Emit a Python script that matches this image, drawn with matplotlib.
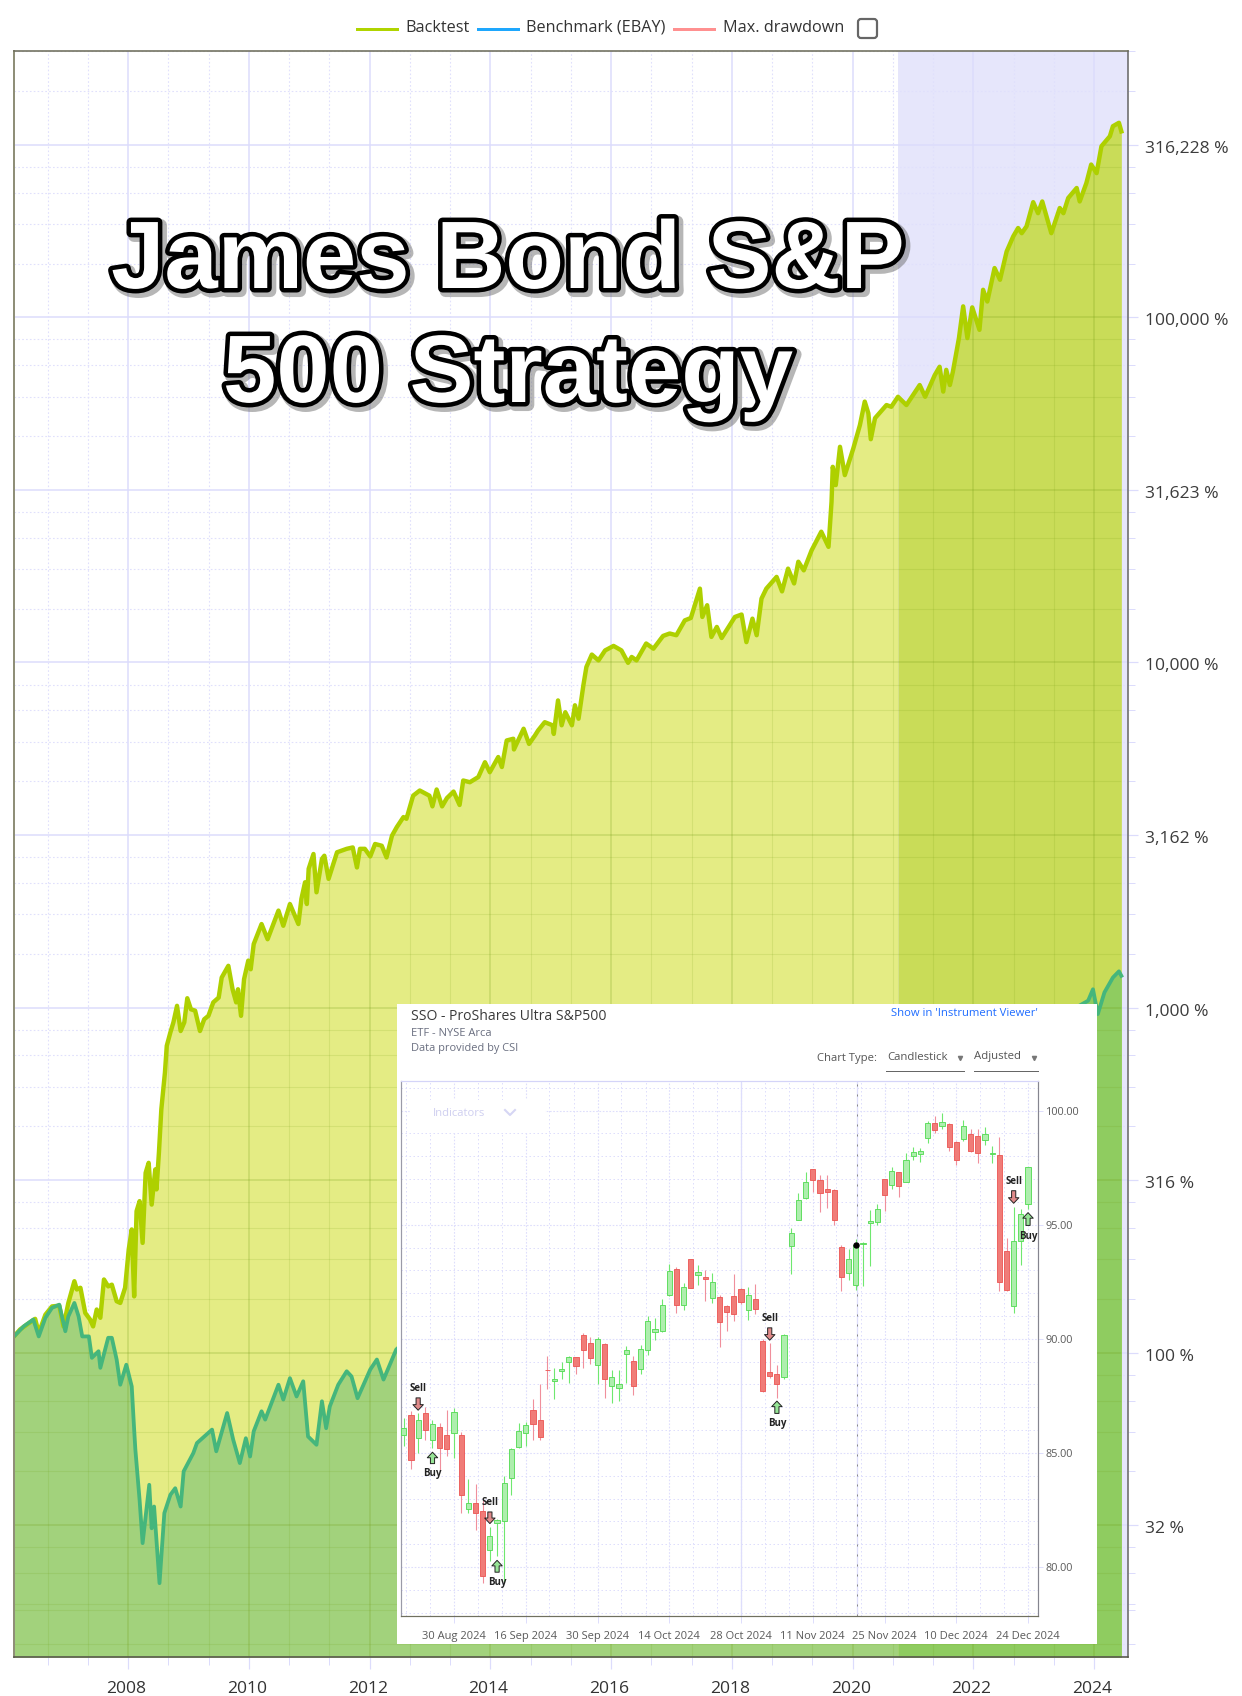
import numpy as np
import matplotlib
matplotlib.use('Agg')
import matplotlib.pyplot as plt
import matplotlib.patheffects as pe
from matplotlib.patches import Polygon, Rectangle, FancyBboxPatch
from matplotlib.ticker import NullFormatter
from matplotlib.transforms import ScaledTranslation

plt.rcParams['font.family'] = ['Open Sans', 'DejaVu Sans']

# equity curves (log10 of the percent value)
backtest_year = [2006.11, 2006.21, 2006.32, 2006.46, 2006.52, 2006.63, 2006.74, 2006.86, 2006.93, 2007.01, 2007.11, 2007.15, 2007.21, 2007.29, 2007.37, 2007.42, 2007.48, 2007.54, 2007.60, 2007.67, 2007.73, 2007.81, 2007.87, 2007.95,
    2008.01, 2008.06, 2008.10, 2008.14, 2008.19, 2008.24, 2008.29, 2008.34, 2008.39, 2008.45, 2008.47, 2008.51, 2008.55, 2008.61, 2008.64, 2008.70, 2008.75, 2008.81, 2008.87, 2008.93, 2008.98,
    2009.04, 2009.11, 2009.19, 2009.26, 2009.33, 2009.41, 2009.50, 2009.55, 2009.66, 2009.73, 2009.79, 2009.82, 2009.87, 2009.92, 2009.99,
    2010.03, 2010.08, 2010.21, 2010.31, 2010.49, 2010.57, 2010.68, 2010.82, 2010.87, 2010.93, 2010.96, 2010.99,
    2011.07, 2011.12, 2011.21, 2011.25, 2011.32, 2011.46, 2011.62, 2011.72, 2011.79, 2011.84, 2011.92,
    2012.01, 2012.09, 2012.20, 2012.28, 2012.37, 2012.45, 2012.56, 2012.61, 2012.72, 2012.83, 2012.99,
    2013.04, 2013.11, 2013.20, 2013.28, 2013.39, 2013.49, 2013.55, 2013.66, 2013.80, 2013.91, 2013.99,
    2014.13, 2014.19, 2014.27, 2014.38, 2014.39, 2014.55, 2014.64, 2014.74, 2014.79, 2014.90,
    2015.03, 2015.05, 2015.12, 2015.18, 2015.24, 2015.35, 2015.40, 2015.46, 2015.54, 2015.59, 2015.68, 2015.79, 2015.90,
    2016.04, 2016.17, 2016.28, 2016.34, 2016.42, 2016.58, 2016.70, 2016.86, 2016.97,
    2017.08, 2017.22, 2017.32, 2017.47, 2017.51, 2017.59, 2017.66, 2017.75, 2017.83, 2017.91,
    2018.05, 2018.16, 2018.24, 2018.34, 2018.41, 2018.49, 2018.57, 2018.74, 2018.83, 2018.93,
    2019.03, 2019.10, 2019.19, 2019.32, 2019.48, 2019.60, 2019.65, 2019.67, 2019.72, 2019.79, 2019.87,
    2020.01, 2020.12, 2020.20, 2020.26, 2020.30, 2020.37, 2020.56, 2020.64, 2020.75, 2020.89,
    2021.11, 2021.20, 2021.36, 2021.44, 2021.50, 2021.55, 2021.61, 2021.66, 2021.76, 2021.83, 2021.90, 2021.98,
    2022.10, 2022.16, 2022.23, 2022.35, 2022.44, 2022.55, 2022.66, 2022.74, 2022.80, 2022.88, 2022.99,
    2023.07, 2023.14, 2023.21, 2023.29, 2023.43, 2023.49, 2023.57, 2023.71, 2023.76, 2023.87, 2023.95,
    2024.04, 2024.12, 2024.26, 2024.31, 2024.41, 2024.45]
backtest_log = [2.047, 2.067, 2.081, 2.098, 2.057, 2.110, 2.134, 2.136, 2.076, 2.144, 2.207, 2.183, 2.188, 2.115, 2.096, 2.076, 2.125, 2.101, 2.212, 2.192, 2.197, 2.149, 2.144, 2.188,
    2.299, 2.357, 2.163, 2.410, 2.439, 2.318, 2.521, 2.550, 2.429, 2.531, 2.473, 2.579, 2.705, 2.812, 2.889, 2.928, 2.957, 3.005, 2.932, 2.957, 3.027,
    2.995, 2.991, 2.932, 2.966, 2.976, 3.015, 3.029, 3.087, 3.121, 3.053, 3.015, 3.053, 2.976, 3.082, 3.136,
    3.111, 3.184, 3.242, 3.198, 3.281, 3.237, 3.300, 3.242, 3.315, 3.363, 3.300, 3.402,
    3.445, 3.334, 3.431, 3.440, 3.373, 3.450, 3.460, 3.464, 3.406, 3.460, 3.460,
    3.438, 3.474, 3.469, 3.435, 3.498, 3.523, 3.552, 3.547, 3.614, 3.629, 3.614,
    3.583, 3.632, 3.583, 3.607, 3.626, 3.587, 3.658, 3.653, 3.668, 3.711, 3.682,
    3.726, 3.697, 3.774, 3.779, 3.748, 3.808, 3.764, 3.789, 3.803, 3.827,
    3.818, 3.793, 3.890, 3.818, 3.856, 3.818, 3.876, 3.837, 3.934, 3.987, 4.023, 4.006, 4.035,
    4.048, 4.035, 3.999, 4.016, 4.006, 4.055, 4.040, 4.077, 4.084,
    4.079, 4.122, 4.129, 4.214, 4.132, 4.166, 4.074, 4.103, 4.071, 4.093,
    4.132, 4.139, 4.059, 4.127, 4.079, 4.185, 4.214, 4.248, 4.206, 4.272,
    4.229, 4.292, 4.267, 4.325, 4.379, 4.335, 4.466, 4.567, 4.514, 4.625, 4.543,
    4.620, 4.688, 4.756, 4.722, 4.647, 4.708, 4.746, 4.741, 4.770, 4.746,
    4.804, 4.770, 4.833, 4.857, 4.785, 4.848, 4.804, 4.843, 4.940, 5.032, 4.940, 5.029,
    4.964, 5.080, 5.046, 5.143, 5.109, 5.191, 5.235, 5.259, 5.244, 5.264, 5.334,
    5.302, 5.336, 5.293, 5.244, 5.317, 5.302, 5.346, 5.375, 5.336, 5.389, 5.443,
    5.418, 5.496, 5.525, 5.554, 5.564, 5.539]

# the stretch behind the inset (2012.5 to 2023.5) can not be seen, rough guess only
bench_year = [2006.11, 2006.27, 2006.43, 2006.52, 2006.63, 2006.74, 2006.86, 2006.96, 2007.01, 2007.11, 2007.18, 2007.24, 2007.35, 2007.40, 2007.51, 2007.54, 2007.67, 2007.73, 2007.81, 2007.87, 2007.97,
    2008.06, 2008.10, 2008.12, 2008.19, 2008.24, 2008.35, 2008.39, 2008.43, 2008.52, 2008.60, 2008.70, 2008.78, 2008.87, 2008.92,
    2009.08, 2009.14, 2009.39, 2009.46, 2009.64, 2009.74, 2009.85, 2009.95,
    2010.02, 2010.08, 2010.21, 2010.27, 2010.49, 2010.57, 2010.68, 2010.79, 2010.90, 2010.98,
    2011.12, 2011.21, 2011.28, 2011.34, 2011.48, 2011.62, 2011.70, 2011.80,
    2012.01, 2012.12, 2012.23, 2012.44, 2014.0, 2016.0, 2018.0, 2020.0, 2020.75, 2022.0, 2023.5,
    2023.90, 2023.98, 2024.06, 2024.17, 2024.31, 2024.41, 2024.45]
bench_log = [2.047, 2.076, 2.096, 2.047, 2.101, 2.130, 2.139, 2.062, 2.105, 2.144, 2.105, 2.047, 2.047, 1.985, 2.004, 1.956, 2.043, 2.043, 1.980, 1.907, 1.965,
    1.902, 1.777, 1.719, 1.573, 1.448, 1.617, 1.491, 1.554, 1.332, 1.535, 1.588, 1.607, 1.554, 1.656,
    1.709, 1.738, 1.777, 1.714, 1.825, 1.748, 1.680, 1.752,
    1.699, 1.772, 1.830, 1.806, 1.907, 1.864, 1.926, 1.873, 1.917, 1.757,
    1.733, 1.859, 1.781, 1.844, 1.907, 1.946, 1.931, 1.868,
    1.951, 1.980, 1.922, 2.009, 2.25, 2.45, 2.60, 2.75, 2.80, 2.90, 2.98,
    3.020, 3.053, 2.981, 3.044, 3.087, 3.105, 3.092]

band_start = 2020.75
year_ticks = [2008, 2010, 2012, 2014, 2016, 2018, 2020, 2022, 2024]
pct_ticks = [10**1.5, 100, 10**2.5, 1000, 10**3.5, 10000, 10**4.5, 100000, 10**5.5]
pct_labels = ['32 %', '100 %', '316 %', '1,000 %', '3,162 %', '10,000 %', '31,623 %', '100,000 %', '316,228 %']

# inset candles, one per trading day
c_open = [85.77, 86.65, 85.66, 86.75, 85.58, 86.14, 85.80, 85.88, 85.77, 82.56, 82.79, 82.47, 80.76, 81.94, 82.00, 83.89, 85.25, 85.86, 86.90, 86.46, 88.65, 88.14, 88.60, 88.98, 89.20, 90.18, 89.80, 88.85, 89.78, 87.95,
    87.85, 89.33, 89.04, 88.68, 89.53, 90.29, 90.34, 91.94, 93.07, 91.48, 93.48, 92.78, 92.73, 91.78, 91.83, 91.42, 91.87, 92.19, 91.26, 91.75, 89.91, 88.54, 88.46, 88.32,
    94.06, 95.22, 96.15, 97.43, 96.97, 96.55, 96.51, 94.04, 92.87, 92.34, 94.14, 95.09, 95.13, 96.99, 96.74, 97.30, 96.89, 98.01, 98.11, 98.82, 99.47, 99.33, 99.43, 98.63, 98.77, 98.98, 98.87, 98.73, 98.11, 98.06, 93.86, 91.43, 94.27, 95.89]
c_close = [86.10, 84.68, 86.43, 85.99, 86.27, 85.22, 85.18, 86.80, 83.17, 82.79, 82.37, 79.59, 81.35, 82.06, 83.68, 85.15, 85.98, 86.23, 86.27, 85.70, 88.63, 88.26, 88.68, 89.21, 88.80, 89.50, 89.15, 89.97, 88.26, 88.33,
    88.01, 89.52, 87.92, 89.56, 90.77, 90.44, 91.46, 92.98, 91.49, 92.28, 92.24, 92.94, 92.63, 92.51, 90.75, 91.17, 91.07, 91.61, 91.90, 91.29, 87.70, 88.39, 88.03, 90.16,
    94.65, 96.07, 96.89, 96.97, 96.37, 96.45, 95.20, 92.72, 93.51, 94.09, 94.20, 95.16, 95.70, 96.29, 97.35, 96.70, 97.85, 98.20, 98.25, 99.47, 99.15, 99.52, 98.41, 97.84, 99.31, 98.25, 98.16, 98.99, 98.14, 92.49, 92.16, 94.30, 95.47, 97.53]
c_high = [86.54, 86.83, 86.73, 87.02, 86.43, 86.29, 86.86, 86.97, 85.91, 83.86, 83.65, 82.95, 81.75, 82.11, 83.98, 85.22, 86.29, 86.35, 87.37, 88.00, 89.24, 88.73, 88.98, 89.24, 89.21, 90.26, 90.09, 90.09, 89.82, 88.65,
    88.63, 89.68, 89.24, 89.72, 90.99, 90.89, 91.73, 93.26, 93.14, 92.43, 93.51, 93.22, 93.01, 92.87, 91.94, 91.46, 92.82, 92.24, 92.28, 92.41, 89.97, 89.82, 88.87, 90.19,
    94.87, 96.37, 97.32, 97.46, 97.16, 97.16, 96.55, 94.09, 93.92, 94.39, 94.24, 95.64, 95.89, 97.02, 97.54, 97.32, 98.13, 98.42, 98.38, 99.55, 99.77, 99.88, 99.44, 98.68, 99.59, 99.18, 99.21, 99.30, 98.45, 98.83, 94.40, 95.79, 95.67, 97.54]
c_low = [85.32, 84.30, 85.00, 85.56, 85.22, 84.20, 84.85, 84.78, 82.37, 82.37, 81.64, 79.30, 80.25, 80.47, 79.30, 83.17, 85.22, 85.29, 85.56, 85.56, 87.81, 87.34, 88.22, 88.07, 88.44, 88.73, 88.90, 88.04, 87.41, 87.19,
    87.27, 88.07, 87.53, 88.44, 89.31, 89.94, 90.31, 91.87, 91.14, 91.26, 92.22, 92.34, 91.65, 91.58, 89.63, 90.34, 90.77, 91.51, 90.82, 91.07, 87.66, 88.29, 87.41, 88.26,
    92.82, 95.20, 96.14, 96.43, 95.56, 95.75, 94.97, 92.09, 92.57, 92.13, 92.31, 93.19, 94.99, 95.60, 96.55, 96.23, 96.87, 97.82, 97.75, 98.60, 99.04, 99.21, 98.23, 97.62, 98.67, 98.20, 97.69, 98.49, 97.72, 92.09, 92.09, 91.14, 93.22, 95.67]

date_idx = [7, 17, 27, 37, 47, 57, 67, 77, 87]
date_labels = ['30 Aug 2024', '16 Sep 2024', '30 Sep 2024', '14 Oct 2024', '28 Oct 2024', '11 Nov 2024', '25 Nov 2024', '10 Dec 2024', '24 Dec 2024']
price_ticks = [80, 85, 90, 95, 100]
price_labels = ['80.00', '85.00', '90.00', '95.00', '100.00']

# signals: candle index, price of the text, arrow tail and arrow tip
sell_idx = [2, 12, 51, 85]
sell_text = [87.81, 82.84, 90.89, 96.89]
sell_tail = [87.41, 82.41, 90.48, 96.49]
sell_tip = [86.87, 81.90, 89.94, 95.94]
buy_idx = [4, 13, 52, 87]
buy_text = [84.08, 79.30, 86.27, 94.50]
buy_tail = [84.53, 79.77, 86.73, 94.97]
buy_tip = [85.03, 80.29, 87.27, 95.53]
cursor_idx = 63
cursor_price = 94.09

W, H = 1242, 1696
px = 0.72  # one pixel in points at dpi 100
fig = plt.figure(figsize=(W / 100, H / 100), dpi=100)

# ---------- main chart ----------
left, right, top, bottom = 14, 1128, 51, 1657
ax = fig.add_axes([left / W, 1 - bottom / H, (right - left) / W, (bottom - top) / H])
ax.set_zorder(1)
ax.set_yscale('log')
xmin, xmax = 2006.11, 2024.56
ymin, ymax = 10**1.118, 10**5.772
ax.set_xlim(xmin, xmax)
ax.set_ylim(ymin, ymax)

bt_x = np.array(backtest_year)
bt_y = 10**np.array(backtest_log)
be_x = np.array(bench_year)
be_y = 10**np.array(bench_log)

ax.axvspan(band_start, xmax, color='#e6e6fb', lw=0, zorder=0.5)

# minor lines split each half decade in 5
minor_y = []
edges = [10**(k / 2) for k in range(2, 13)]
for lo, hi in zip(edges[:-1], edges[1:]):
    minor_y += [lo + (hi - lo) * j / 5 for j in range(1, 5)]
for lo in [10**1.5]:
    minor_y += [lo - (100 - lo) * j / 5 for j in range(1, 3)]
minor_y = [v for v in minor_y if ymin < v < ymax]
minor_x = [y + d for y in range(2006, 2026, 2) for d in (2 / 3, 4 / 3)]
minor_x = [v for v in minor_x if xmin < v < xmax]

ax.set_xticks(year_ticks, labels=[str(y) for y in year_ticks])
ax.set_yticks(pct_ticks, labels=pct_labels)
ax.set_xticks(minor_x, minor=True)
ax.set_yticks(minor_y, minor=True)
ax.yaxis.set_minor_formatter(NullFormatter())
ax.yaxis.tick_right()
ax.set_axisbelow(True)

grid_c = '#dcdcfc'
grid_minor = '#e0e0fc'
for pos in year_ticks:
    ax.axvline(pos, color=grid_c, lw=1.5 * px, zorder=0.6)
for pos in pct_ticks:
    ax.axhline(pos, color=grid_c, lw=1.5 * px, zorder=0.6)
for pos in minor_x:
    ax.axvline(pos, color=grid_minor, lw=1.1 * px, ls=(0, (1.5, 2)), zorder=0.6)
for pos in minor_y:
    ax.axhline(pos, color=grid_minor, lw=1.1 * px, ls=(0, (1.5, 2)), zorder=0.6)

# fills, paler left of the shaded band
b_before = bt_x <= band_start
b_after = bt_x >= band_start
ax.fill_between(bt_x[b_before], ymin, bt_y[b_before], color='#e4ec84', lw=0, zorder=1)
ax.fill_between(bt_x[b_after], ymin, bt_y[b_after], color='#c9dc58', lw=0, zorder=1)
e_before = be_x <= band_start
e_after = be_x >= band_start
ax.fill_between(be_x[e_before], ymin, be_y[e_before], color='#a2d27c', lw=0, zorder=1.1)
ax.fill_between(be_x[e_after], ymin, be_y[e_after], color='#8fcc60', lw=0, zorder=1.1)

# grid shows through the fill as a darker green
verts = [(bt_x[0], ymin)] + list(zip(bt_x, bt_y)) + [(bt_x[-1], ymin)]
clip = Polygon(verts, closed=True, transform=ax.transData)
for pos in year_ticks:
    ax.axvline(pos, color='#6f9a10', alpha=0.25, lw=1.5 * px, zorder=1.3).set_clip_path(clip)
for pos in pct_ticks:
    ax.axhline(pos, color='#6f9a10', alpha=0.25, lw=1.5 * px, zorder=1.3).set_clip_path(clip)
for pos in minor_x:
    ax.axvline(pos, color='#6f9a10', alpha=0.14, lw=1.1 * px, zorder=1.3).set_clip_path(clip)
for pos in minor_y:
    ax.axhline(pos, color='#6f9a10', alpha=0.14, lw=1.1 * px, zorder=1.3).set_clip_path(clip)

ax.plot(bt_x, bt_y, color='#aed000', lw=4.4 * px, solid_joinstyle='round', zorder=2)
ax.plot(be_x, be_y, color='#45b67c', lw=3.8 * px, solid_joinstyle='round', zorder=2.1)

ax.spines['left'].set_color('#8f8f78')
ax.spines['left'].set_linewidth(2 * px)
ax.spines['top'].set_color('#6e6e5c')
ax.spines['top'].set_linewidth(1.6 * px)
ax.spines['right'].set_color('#6a6a6a')
ax.spines['right'].set_linewidth(1.6 * px)
ax.spines['bottom'].set_color('#55554a')
ax.spines['bottom'].set_linewidth(1.6 * px)

ax.tick_params(axis='x', which='major', length=12 * px, width=1.2 * px, color=grid_c, pad=8.5, labelsize=12.6, labelcolor='#333333')
ax.tick_params(axis='x', which='minor', length=8 * px, width=1 * px, color=grid_c)
ax.tick_params(axis='y', which='major', length=10 * px, width=1.2 * px, color=grid_c, pad=5, labelsize=12.6, labelcolor='#3c3c3c')
ax.tick_params(axis='y', which='minor', length=7 * px, width=1 * px, color=grid_c)
for lab in ax.get_yticklabels():
    lab.set_transform(lab.get_transform() + ScaledTranslation(0, -2 * px / 72, fig.dpi_scale_trans))
for lab in ax.get_xticklabels():
    lab.set_transform(lab.get_transform() + ScaledTranslation(-2 * px / 72, 0, fig.dpi_scale_trans))

# ---------- page overlay in pixels: legend, inset card ----------
ov = fig.add_axes([0, 0, 1, 1])
ov.set_zorder(2)
ov.set_xlim(0, W)
ov.set_ylim(H, 0)
ov.axis('off')

ov.plot([357, 397], [28.5, 28.5], color='#b0d400', lw=3 * px)
ov.text(405, 28, 'Backtest', fontsize=11.7, color='#333333', va='center')
ov.plot([478, 518], [28.5, 28.5], color='#1ea7fd', lw=3 * px)
ov.text(526, 28, 'Benchmark (EBAY)', fontsize=11.7, color='#333333', va='center')
ov.plot([674, 714], [28.5, 28.5], color='#ff9090', lw=3 * px)
ov.text(723, 28, 'Max. drawdown', fontsize=11.7, color='#333333', va='center')
ov.add_patch(FancyBboxPatch((858, 19), 19, 19, boxstyle='round,pad=0,rounding_size=3', fc='white', ec='#666666', lw=2.2 * px))

ov.add_patch(Rectangle((397, 1004), 700, 640, fc='white', ec='none'))
ov.text(411, 1017, 'SSO - ProShares Ultra S&P500', fontsize=10.1, color='#3a3a3a', va='center')
ov.text(411, 1033, 'ETF - NYSE Arca', fontsize=8.0, color='#6a6f80', va='center')
ov.text(411, 1049, 'Data provided by CSI', fontsize=7.9, color='#6a6f80', va='center')
ov.text(891, 1013, "Show in 'Instrument Viewer'", fontsize=8.1, color='#1e6cff', va='center')
ov.text(817, 1059, 'Chart Type:', fontsize=8.1, color='#555555', va='center')
ov.text(887, 1057, 'Candlestick', fontsize=8.2, color='#555555', va='center')
ov.text(974, 1057, 'Adjusted', fontsize=8.2, color='#555555', va='center')
ov.plot([960, 1034], [1058, 1058], ls='none', marker='v', ms=3, color='#777777')
ov.plot([886, 964], [1071, 1071], color='#666666', lw=1 * px)
ov.plot([974, 1038], [1071, 1071], color='#666666', lw=1 * px)

# ---------- inset candlesticks ----------
il, ir, it, ib = 401, 1038, 1081, 1616
ins = fig.add_axes([il / W, 1 - ib / H, (ir - il) / W, (ib - it) / H])
ins.set_zorder(3)
ins.set_xlim(-0.39, 88.39)
ins.set_ylim(77.85, 101.3)
ins.set_facecolor('white')

ins_grid = '#dedefc'
price_minor = [p for p in range(78, 102) if p % 5 != 0]
idx_minor = [d + s for d in [-3] + date_idx for s in (3.3, 6.7) if -0.36 < d + s < 88.1]
for pos in price_ticks:
    ins.axhline(pos, color=ins_grid, lw=1.1 * px, ls=(0, (1.5, 1.5)), zorder=0.5)
for pos in price_minor:
    ins.axhline(pos, color=ins_grid, lw=1 * px, ls=(0, (1.5, 2.5)), zorder=0.5)
for pos in date_idx:
    ins.axvline(pos, color=ins_grid, lw=1.1 * px, ls=(0, (1.5, 1.5)), zorder=0.5)
for pos in idx_minor:
    ins.axvline(pos, color=ins_grid, lw=1 * px, ls=(0, (1.5, 2.5)), zorder=0.5)
ins.axvline(47, color=ins_grid, lw=1.3 * px, zorder=0.5)
ins.axvline(cursor_idx + 0.1, color=ins_grid, lw=1.3 * px, zorder=0.6)
ins.axvline(cursor_idx + 0.1, color='#8a8a8a', lw=1 * px, ls=(0, (2, 8)), zorder=0.7)

# indicators menu hides the grid
ins.add_patch(Rectangle((411, 1100), 134, 33, transform=ov.transData, fc='white', ec='none', zorder=0.8))
ins.text(433, 1113, 'Indicators', transform=ov.transData, fontsize=8.1, color='#cfcff0', va='center', zorder=0.9)
ins.plot([505, 510, 515], [1110, 1115, 1110], transform=ov.transData, color='#d6d6f4', lw=1.5, zorder=0.9)

red_wick, red_body, red_edge = '#f08f9c', '#f07c78', '#ec5a58'
green_wick, green_body, green_edge = '#6fe86f', '#aeeeae', '#58dc58'
for i in range(len(c_open)):
    up = c_close[i] >= c_open[i]
    ins.vlines(i, c_low[i], c_high[i], color=green_wick if up else red_wick, lw=1.1 * px, zorder=2)
    ins.bar(i, abs(c_close[i] - c_open[i]), bottom=min(c_open[i], c_close[i]), width=0.72,
            color=green_body if up else red_body, edgecolor=green_edge if up else red_edge, lw=0.9 * px, zorder=3)

def signal(i, label_y, tail, tip, word, fc):
    ins.text(i, label_y, word, fontsize=7, fontweight='bold', color='#222222', ha='center', va='center', zorder=6)
    ins.annotate('', xy=(i, tip), xytext=(i, tail),
                 arrowprops=dict(arrowstyle='simple,head_length=0.4,head_width=0.75,tail_width=0.3', fc=fc, ec='#222222', lw=0.7,
                                 mutation_scale=10, shrinkA=0, shrinkB=0), zorder=6)

for i, ty, tl, tp in zip(sell_idx, sell_text, sell_tail, sell_tip):
    signal(i, ty, tl, tp, 'Sell', '#e08a8a')
for i, ty, tl, tp in zip(buy_idx, buy_text, buy_tail, buy_tip):
    signal(i, ty, tl, tp, 'Buy', '#96e496')
ins.plot([cursor_idx], [cursor_price], marker='o', ms=3.6, color='black', zorder=7)

ins.set_xticks(date_idx, labels=date_labels)
ins.set_yticks(price_ticks, labels=price_labels)
ins.yaxis.tick_right()
ins.tick_params(axis='x', length=7 * px, width=1 * px, color=ins_grid, pad=6, labelsize=8, labelcolor='#5a5a5a')
ins.tick_params(axis='y', length=5 * px, width=1 * px, color=ins_grid, pad=2, labelsize=7.8, labelcolor='#5a5a5a')
ins.spines['top'].set_color('#d4d4f8')
ins.spines['left'].set_color('#9a9aa8')
ins.spines['right'].set_color('#85858f')
ins.spines['bottom'].set_color('#70705f')
for s in ins.spines.values():
    s.set_linewidth(1.2 * px)

# ---------- outlined headline ----------
effects = [pe.Stroke(linewidth=12 * px, foreground='#6e6e6e', alpha=0.5, offset=(2.2, -2.2)),
           pe.Stroke(linewidth=9 * px, foreground='black'),
           pe.Normal()]
for y, line in zip([288, 402], ['James Bond S&P', '500 Strategy']):
    fig.text(508 / W, 1 - y / H, line, family='Liberation Sans', fontweight='bold', fontsize=69, color='white',
             ha='center', va='baseline', zorder=10, path_effects=effects)

fig.savefig('out.png', dpi=100)
